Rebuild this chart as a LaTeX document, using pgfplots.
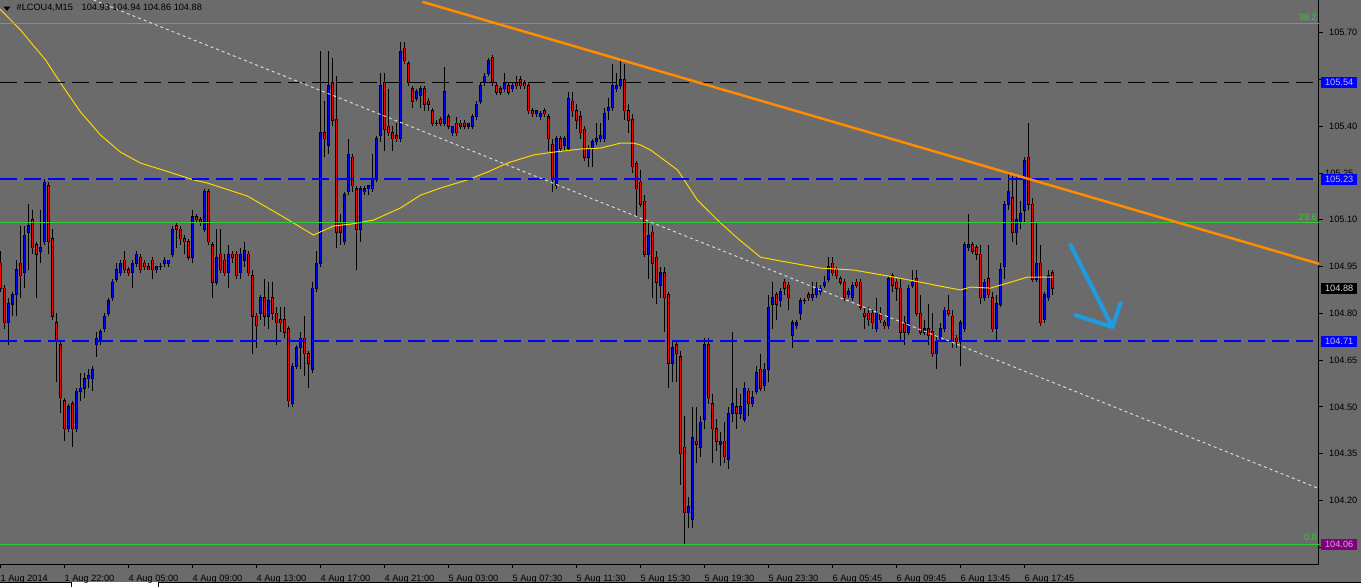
\documentclass[border=0pt]{standalone}
\usepackage{pgfplots}
\pgfplotsset{compat=1.18}
\usepackage{pgfplotstable}
\usepackage{fontspec}
\setmainfont{Liberation Sans}
\definecolor{mtgrey}{RGB}{107,107,107}
\definecolor{mtblue}{RGB}{0,0,255}
\definecolor{mtred}{RGB}{255,0,0}
\definecolor{fibgreen}{RGB}{50,205,50}
\definecolor{magold}{RGB}{255,215,0}
\definecolor{trorange}{RGB}{255,140,0}
\definecolor{dotgrey}{RGB}{215,215,215}
\definecolor{arrowblue}{RGB}{30,155,225}
\definecolor{boxtextblue}{RGB}{190,190,235}
\definecolor{boxpurple}{RGB}{128,0,128}
\definecolor{boxtextpurple}{RGB}{205,165,205}
\newcommand\mtfont{\fontsize{9.2pt}{10pt}\selectfont}

\pgfplotstableread{
i o h l c
0 104.96 105.00 104.87 104.88
1 104.88 104.89 104.75 104.77
2 104.77 104.85 104.70 104.83
3 104.83 104.87 104.79 104.86
4 104.86 104.97 104.79 104.94
5 104.96 105.08 104.85 104.92
6 104.93 105.08 104.88 105.05
7 105.06 105.15 104.94 105.08
8 105.10 105.13 104.99 105.01
9 105.02 105.03 104.85 104.99
10 105.00 105.13 104.96 105.01
11 105.03 105.23 105.02 105.22
12 105.21 105.22 104.99 105.03
13 105.04 105.07 104.78 104.79
14 104.77 104.80 104.58 104.71
15 104.70 104.71 104.48 104.53
16 104.52 104.53 104.39 104.43
17 104.43 104.51 104.42 104.50
18 104.51 104.52 104.37 104.43
19 104.43 104.56 104.42 104.55
20 104.55 104.61 104.52 104.56
21 104.56 104.61 104.53 104.59
22 104.59 104.62 104.56 104.60
23 104.59 104.63 104.55 104.62
24 104.70 104.74 104.66 104.72
25 104.71 104.75 104.70 104.74
26 104.75 104.80 104.74 104.79
27 104.80 104.85 104.79 104.84
28 104.85 104.91 104.84 104.90
29 104.91 104.96 104.90 104.94
30 104.93 104.97 104.92 104.96
31 104.97 105.00 104.93 104.94
32 104.94 104.95 104.92 104.93
33 104.93 104.97 104.88 104.96
34 104.96 105.00 104.95 104.99
35 104.98 104.99 104.93 104.94
36 104.96 104.97 104.94 104.95
37 104.95 104.96 104.94 104.94
38 104.97 104.98 104.91 104.94
39 104.94 104.95 104.93 104.95
40 104.95 104.96 104.94 104.95
41 104.96 104.98 104.95 104.97
42 104.96 104.97 104.95 104.97
43 104.99 105.08 104.98 105.07
44 105.08 105.09 105.01 105.07
45 105.07 105.08 105.02 105.04
46 105.04 105.05 104.99 105.03
47 105.03 105.04 104.97 104.98
48 104.98 105.13 104.96 105.11
49 105.11 105.12 105.09 105.10
50 105.10 105.11 105.08 105.09
51 105.07 105.20 105.06 105.19
52 105.19 105.20 105.02 105.03
53 105.02 105.03 104.85 104.90
54 104.90 105.07 104.89 104.98
55 104.99 105.07 104.93 104.94
56 104.97 104.99 104.92 104.93
57 104.93 105.02 104.88 104.99
58 104.99 105.00 104.96 104.98
59 104.99 105.00 104.91 104.92
60 104.93 105.01 104.91 104.99
61 104.97 105.03 104.95 105.00
62 104.99 105.00 104.92 104.93
63 104.92 104.94 104.67 104.79
64 104.79 104.80 104.69 104.76
65 104.80 104.86 104.78 104.85
66 104.85 104.91 104.76 104.79
67 104.79 104.90 104.75 104.84
68 104.85 104.90 104.78 104.80
69 104.80 104.82 104.70 104.77
70 104.78 104.82 104.74 104.77
71 104.78 104.82 104.72 104.74
72 104.75 104.76 104.50 104.52
73 104.51 104.64 104.50 104.63
74 104.63 104.70 104.62 104.69
75 104.69 104.74 104.62 104.72
76 104.72 104.79 104.60 104.67
77 104.67 104.68 104.56 104.64
78 104.62 104.90 104.61 104.88
79 104.88 105.00 104.87 104.96
80 104.96 105.64 104.95 105.38
81 105.38 105.48 105.30 105.36
82 105.34 105.64 105.31 105.53
83 105.54 105.62 105.40 105.42
84 105.42 105.56 105.01 105.06
85 105.09 105.12 105.02 105.06
86 105.03 105.19 105.02 105.18
87 105.19 105.36 105.18 105.31
88 105.30 105.31 105.19 105.21
89 105.20 105.21 104.94 105.07
90 105.07 105.21 105.03 105.20
91 105.19 105.21 105.18 105.20
92 105.20 105.21 105.18 105.21
93 105.20 105.31 105.19 105.23
94 105.23 105.37 105.22 105.36
95 105.37 105.57 105.35 105.53
96 105.54 105.57 105.32 105.39
97 105.40 105.52 105.37 105.38
98 105.38 105.40 105.32 105.36
99 105.37 105.41 105.35 105.36
100 105.36 105.67 105.35 105.64
101 105.65 105.67 105.60 105.61
102 105.60 105.61 105.53 105.54
103 105.52 105.53 105.46 105.48
104 105.49 105.52 105.48 105.51
105 105.50 105.53 105.46 105.52
106 105.52 105.53 105.45 105.47
107 105.48 105.49 105.45 105.47
108 105.45 105.46 105.40 105.41
109 105.41 105.42 105.40 105.41
110 105.42 105.43 105.40 105.41
111 105.41 105.59 105.40 105.51
112 105.43 105.44 105.39 105.40
113 105.38 105.40 105.37 105.40
114 105.41 105.43 105.37 105.38
115 105.41 105.42 105.39 105.40
116 105.41 105.42 105.39 105.40
117 105.40 105.41 105.39 105.41
118 105.40 105.44 105.39 105.43
119 105.43 105.48 105.42 105.47
120 105.48 105.54 105.47 105.53
121 105.54 105.57 105.53 105.56
122 105.57 105.62 105.56 105.61
123 105.62 105.63 105.53 105.54
124 105.53 105.54 105.50 105.51
125 105.52 105.53 105.50 105.51
126 105.52 105.57 105.51 105.54
127 105.53 105.54 105.50 105.51
128 105.52 105.54 105.51 105.53
129 105.54 105.56 105.52 105.53
130 105.55 105.56 105.52 105.53
131 105.54 105.55 105.52 105.53
132 105.53 105.54 105.44 105.45
133 105.45 105.46 105.43 105.44
134 105.44 105.45 105.43 105.45
135 105.43 105.45 105.42 105.44
136 105.45 105.46 105.43 105.44
137 105.43 105.44 105.32 105.36
138 105.34 105.36 105.19 105.23
139 105.21 105.37 105.20 105.36
140 105.36 105.37 105.32 105.33
141 105.34 105.37 105.32 105.36
142 105.33 105.51 105.32 105.49
143 105.48 105.51 105.43 105.45
144 105.45 105.47 105.39 105.42
145 105.43 105.45 105.36 105.38
146 105.39 105.40 105.29 105.30
147 105.30 105.34 105.27 105.33
148 105.33 105.36 105.27 105.35
149 105.35 105.41 105.34 105.36
150 105.36 105.41 105.35 105.37
151 105.36 105.46 105.35 105.44
152 105.45 105.49 105.42 105.46
153 105.46 105.60 105.45 105.53
154 105.52 105.57 105.51 105.53
155 105.53 105.62 105.52 105.55
156 105.55 105.60 105.42 105.45
157 105.45 105.47 105.38 105.42
158 105.42 105.44 105.25 105.27
159 105.28 105.29 105.11 105.20
160 105.22 105.26 105.14 105.15
161 105.16 105.18 104.98 104.99
162 104.99 105.09 104.91 105.05
163 105.06 105.08 104.85 104.96
164 104.98 105.00 104.83 104.90
165 104.89 104.95 104.85 104.93
166 104.93 104.95 104.74 104.85
167 104.86 104.87 104.56 104.64
168 104.64 104.71 104.58 104.69
169 104.70 104.71 104.58 104.67
170 104.66 104.68 104.25 104.35
171 104.37 104.47 104.06 104.16
172 104.16 104.21 104.11 104.18
173 104.14 104.50 104.11 104.40
174 104.39 104.50 104.32 104.38
175 104.37 104.47 104.34 104.45
176 104.46 104.72 104.43 104.70
177 104.70 104.72 104.51 104.53
178 104.51 104.54 104.32 104.43
179 104.43 104.46 104.36 104.39
180 104.38 104.42 104.31 104.39
181 104.39 104.45 104.32 104.34
182 104.33 104.50 104.30 104.48
183 104.48 104.74 104.45 104.51
184 104.50 104.56 104.43 104.48
185 104.48 104.54 104.46 104.50
186 104.46 104.58 104.45 104.56
187 104.55 104.56 104.47 104.51
188 104.51 104.55 104.50 104.53
189 104.55 104.63 104.54 104.61
190 104.62 104.67 104.55 104.56
191 104.57 104.64 104.55 104.62
192 104.62 104.86 104.58 104.82
193 104.83 104.90 104.75 104.85
194 104.86 104.87 104.78 104.83
195 104.84 104.88 104.82 104.87
196 104.90 104.91 104.86 104.88
197 104.89 104.90 104.81 104.85
198 104.73 104.78 104.69 104.77
199 104.76 104.78 104.75 104.77
200 104.80 104.85 104.78 104.84
201 104.84 104.85 104.83 104.84
202 104.86 104.87 104.84 104.85
203 104.85 104.90 104.84 104.86
204 104.86 104.90 104.85 104.88
205 104.87 104.89 104.86 104.88
206 104.89 104.92 104.88 104.90
207 104.91 104.98 104.90 104.95
208 104.96 104.98 104.92 104.93
209 104.94 104.95 104.91 104.92
210 104.91 104.92 104.89 104.90
211 104.90 104.91 104.84 104.85
212 104.86 104.88 104.85 104.87
213 104.85 104.90 104.84 104.89
214 104.90 104.91 104.88 104.89
215 104.90 104.91 104.81 104.82
216 104.80 104.82 104.75 104.79
217 104.80 104.82 104.76 104.78
218 104.80 104.81 104.75 104.77
219 104.75 104.85 104.74 104.80
220 104.80 104.82 104.77 104.78
221 104.77 104.78 104.75 104.76
222 104.76 104.92 104.75 104.91
223 104.92 104.93 104.87 104.89
224 104.90 104.91 104.84 104.88
225 104.88 104.91 104.71 104.74
226 104.77 104.79 104.70 104.74
227 104.74 104.89 104.73 104.88
228 104.89 104.94 104.88 104.90
229 104.91 104.94 104.79 104.80
230 104.80 104.86 104.73 104.74
231 104.74 104.78 104.73 104.75
232 104.75 104.83 104.70 104.73
233 104.74 104.80 104.66 104.67
234 104.67 104.73 104.62 104.71
235 104.72 104.77 104.71 104.75
236 104.75 104.82 104.74 104.81
237 104.81 104.86 104.79 104.80
238 104.79 104.81 104.69 104.71
239 104.72 104.73 104.69 104.71
240 104.71 104.78 104.63 104.77
241 104.75 105.03 104.74 105.02
242 105.01 105.12 105.00 105.02
243 105.02 105.03 104.99 105.00
244 105.01 105.02 104.97 104.99
245 104.99 105.02 104.83 104.85
246 104.85 104.91 104.84 104.90
247 104.91 105.02 104.85 104.86
248 104.85 104.87 104.74 104.75
249 104.75 104.86 104.71 104.83
250 104.83 104.96 104.82 104.94
251 104.95 105.16 104.91 105.15
252 105.15 105.25 105.13 105.19
253 105.17 105.24 105.03 105.06
254 105.06 105.24 105.02 105.10
255 105.09 105.16 105.07 105.12
256 105.13 105.30 105.09 105.29
257 105.30 105.41 105.13 105.15
258 105.15 105.17 104.90 104.91
259 104.91 105.09 104.90 104.96
260 104.96 105.02 104.76 104.77
261 104.78 104.87 104.77 104.86
262 104.85 104.94 104.84 104.92
263 104.93 104.94 104.86 104.88
}\candles

\begin{document}
\begin{tikzpicture}
\fill[mtgrey] (0pt,-23pt) rectangle (1361pt,564pt);
\fill[white] (0pt,-23pt) rectangle (1361pt,-18pt);
\draw[black, line width=1pt] (0pt,-18.5pt) -- (71pt,-18.5pt) -- (71pt,-23pt);
\draw[black, line width=1pt] (158pt,-23pt) -- (158pt,-18.5pt) -- (1361pt,-18.5pt);
\begin{axis}[
  at={(0pt,0pt)}, anchor=south west,
  scale only axis, width=1319pt, height=564pt,
  xmin=-0.125, xmax=329.625, ymin=103.996, ymax=105.805,
  clip=false,
  axis x line*=bottom, axis y line*=right,
  axis line style={black, line width=1pt},
  tick align=outside, major tick length=4pt,
  tick style={black, line width=1pt},
  xtick={0,16,32,48,64,80,96,112,128,144,160,176,192,208,224,240,256},
  xticklabels={1 Aug 2014,1 Aug 22:00,4 Aug 05:00,4 Aug 09:00,4 Aug 13:00,4 Aug 17:00,4 Aug 21:00,5 Aug 03:00,5 Aug 07:30,5 Aug 11:30,5 Aug 15:30,5 Aug 19:30,5 Aug 23:30,6 Aug 05:45,6 Aug 09:45,6 Aug 13:45,6 Aug 17:45},
  ytick={104.05,104.20,104.35,104.50,104.65,104.80,104.95,105.10,105.25,105.40,105.55,105.70},
  yticklabels={,104.20,104.35,104.50,104.65,104.80,104.95,105.10,,105.40,,105.70},
  xticklabel style={font=\mtfont, text=black, anchor=base west, inner sep=0pt, xshift=0pt, yshift=-13pt},
  yticklabel style={font=\mtfont, text=black, anchor=west, inner sep=0pt, xshift=6pt},
  error bars/error mark=none,
]
% wicks
\addplot[draw=none, mark=none, error bars/.cd, y dir=plus, y explicit,
  error bar style={draw=black, solid, line width=1pt}]
  table[x=i, y=l, y error plus expr=\thisrow{h}-\thisrow{l}] {\candles};
% body outlines
\addplot[draw=none, mark=none, error bars/.cd, y dir=plus, y explicit,
  error bar style={draw=black, solid, line width=3.2pt}]
  table[x=i, y expr={min(\thisrow{o},\thisrow{c})-0.0018}, y error plus expr={abs(\thisrow{c}-\thisrow{o})+0.0036}] {\candles};
% bull bodies
\addplot[draw=none, mark=none, restrict expr to domain={\thisrow{c}-\thisrow{o}}{0.001:10},
  error bars/.cd, y dir=plus, y explicit,
  error bar style={draw=mtblue, solid, line width=1.8pt}]
  table[x=i, y=o, y error plus expr=\thisrow{c}-\thisrow{o}] {\candles};
% bear bodies
\addplot[draw=none, mark=none, restrict expr to domain={\thisrow{o}-\thisrow{c}}{0.001:10},
  error bars/.cd, y dir=plus, y explicit,
  error bar style={draw=mtred, solid, line width=1.8pt}]
  table[x=i, y=c, y error plus expr=\thisrow{o}-\thisrow{c}] {\candles};

% moving average
\addplot[magold, line width=1pt, mark=none] coordinates {
(-0.125,105.776) (5,105.709) (7.5,105.670) (11.25,105.613) (15,105.539) (20,105.446)
(25,105.372) (30,105.317) (35,105.282) (40.5,105.260) (48.25,105.228) (51.75,105.218)
(61.75,105.176) (70.75,105.109) (78.25,105.051) (83.25,105.080) (87.5,105.086)
(93.25,105.099) (100,105.138) (105,105.179) (110,105.202) (116.75,105.228)
(121.75,105.253) (126.75,105.282) (133.25,105.308) (138.25,105.317) (145,105.327)
(150,105.330) (155,105.346) (158.25,105.346) (160,105.340) (162.5,105.324)
(169.25,105.260) (174.25,105.163) (180,105.090) (184.25,105.041) (190,104.980)
(195,104.968) (205,104.945) (213.25,104.939) (221.75,104.920) (230,104.900)
(235,104.887) (240,104.875) (242.5,104.884) (247.5,104.881) (251.75,104.897)
(256.75,104.916) (263.25,104.916)};

% horizontal levels
\addplot[draw=fibgreen, line width=1pt] coordinates {(-0.125,105.73) (329.625,105.73)};
\addplot[draw=fibgreen, line width=1pt] coordinates {(-0.125,105.09) (329.625,105.09)};
\addplot[draw=fibgreen, line width=1pt] coordinates {(-0.125,104.06) (329.625,104.06)};
\addplot[draw=black, line width=1.2pt, dash pattern=on 17pt off 7pt] coordinates {(-0.125,105.54) (329.625,105.54)};
\addplot[draw=mtblue, line width=2pt, dash pattern=on 17pt off 7pt] coordinates {(-0.125,105.23) (329.625,105.23)};
\addplot[draw=mtblue, line width=2pt, dash pattern=on 17pt off 7pt] coordinates {(-0.125,104.71) (329.625,104.71)};

% trend lines
\addplot[draw=dotgrey, line width=1pt, dash pattern=on 3pt off 3pt] coordinates {(23.25,105.805) (329.625,104.238)};
\addplot[draw=trorange, line width=2.5pt] coordinates {(105.5,105.799) (329.625,104.959)};

% arrow
\addplot[draw=arrowblue, line width=4pt, line cap=round, line join=round] coordinates {(267.5,105.019) (278,104.756) (268.75,104.794)};
\addplot[draw=arrowblue, line width=4pt, line cap=round] coordinates {(278,104.756) (280,104.833)};

% fib labels
\node[anchor=base east, inner sep=0pt, text=fibgreen, font=\mtfont] at (axis cs:329.125,105.739) {38.2};
\node[anchor=base east, inner sep=0pt, text=fibgreen, font=\mtfont] at (axis cs:329.125,105.097) {23.6};
\node[anchor=base east, inner sep=0pt, text=fibgreen, font=\mtfont] at (axis cs:329.125,104.070) {0.0};

% partly hidden scale labels
\node[anchor=west, inner sep=0pt, text=black, font=\mtfont] at (axis cs:331.125,105.25) {105.25};
\node[anchor=west, inner sep=0pt, text=black, font=\mtfont] at (axis cs:331.125,104.05) {104.05};

% price boxes
\node[anchor=west, fill=mtblue, text=boxtextblue, font=\mtfont, minimum width=36pt, minimum height=11pt, inner sep=0pt] at (axis cs:330.125,105.54) {105.54};
\node[anchor=west, fill=mtblue, text=boxtextblue, font=\mtfont, minimum width=36pt, minimum height=11pt, inner sep=0pt] at (axis cs:330.125,105.23) {105.23};
\node[anchor=west, fill=mtblue, text=boxtextblue, font=\mtfont, minimum width=36pt, minimum height=11pt, inner sep=0pt] at (axis cs:330.125,104.71) {104.71};
\node[anchor=west, fill=black, text=white!85!black, font=\mtfont, minimum width=36pt, minimum height=11pt, inner sep=0pt] at (axis cs:330.125,104.88) {104.88};
\node[anchor=west, fill=boxpurple, text=boxtextpurple, font=\mtfont, minimum width=36pt, minimum height=11pt, inner sep=0pt] at (axis cs:330.125,104.06) {104.06};

% header
\fill[black] (axis cs:0.75,105.784) -- (axis cs:2.5,105.784) -- (axis cs:1.625,105.770) -- cycle;
\node[anchor=base west, inner sep=0pt, text=black, font=\mtfont] at (axis cs:4,105.770) {\#LCOU4,M15};
\node[anchor=base west, inner sep=0pt, text=black, font=\mtfont] at (axis cs:20.25,105.770) {104.93 104.94 104.86 104.88};
\end{axis}
\pgfresetboundingbox
\path[use as bounding box] (0pt,-23pt) rectangle (1361pt,564pt);
\end{tikzpicture}
\end{document}
